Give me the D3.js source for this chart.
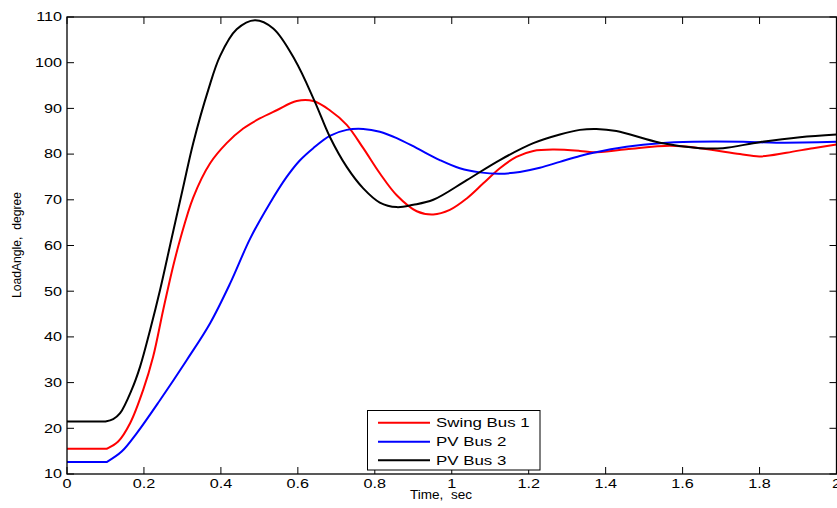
<!DOCTYPE html>
<html>
<head>
<meta charset="utf-8">
<script src="https://cdn.jsdelivr.net/npm/d3@7"></script>
<style>
  html, body { margin: 0; padding: 0; background: #fff; overflow: hidden; }
  svg { display: block; }
  text { font-family: "Liberation Sans", Arial, sans-serif; fill: #000; }
</style>
</head>
<body>
<svg id="chart" width="837" height="508"></svg>
<script>
// ---- data ----
const xTicks = [0, 0.2, 0.4, 0.6, 0.8, 1, 1.2, 1.4, 1.6, 1.8, 2];
const yTicks = [10, 20, 30, 40, 50, 60, 70, 80, 90, 100, 110];

const seriesNames = ["Swing Bus 1", "PV Bus 2", "PV Bus 3"];
const seriesColors = ["#ff0000", "#0000ff", "#000000"];

const swingTime  = [0, 0.103, 0.133, 0.164, 0.198, 0.224, 0.25, 0.276, 0.294, 0.328, 0.372, 0.415, 0.458, 0.501, 0.545, 0.597, 0.64, 0.683, 0.727, 0.77, 0.813, 0.857, 0.909, 0.952, 0.995, 1.039, 1.082, 1.125, 1.168, 1.212, 1.264, 1.333, 1.368, 1.454, 1.567, 1.645, 1.749, 1.80, 1.87, 1.939, 2.0];
const swingAngle = [15.5, 15.5, 17.1, 21.1, 28.4, 35.7, 45.9, 55.5, 61.3, 70.5, 78.0, 82.4, 85.6, 87.8, 89.6, 91.6, 91.6, 89.6, 86.4, 81.3, 75.8, 71.0, 67.5, 66.8, 67.8, 70.3, 73.6, 76.9, 79.4, 80.7, 81.0, 80.7, 80.4, 81.05, 81.8, 81.3, 80.0, 79.5, 80.3, 81.3, 82.1];

const pv2Time  = [0, 0.103, 0.142, 0.181, 0.242, 0.311, 0.372, 0.424, 0.476, 0.527, 0.571, 0.605, 0.64, 0.683, 0.727, 0.77, 0.813, 0.857, 0.909, 0.969, 1.021, 1.073, 1.125, 1.177, 1.229, 1.281, 1.333, 1.368, 1.454, 1.541, 1.627, 1.757, 1.844, 2.0];
const pv2Angle = [12.6, 12.6, 14.9, 18.9, 26.2, 34.9, 43.0, 51.7, 61.5, 69.2, 75.0, 78.6, 81.3, 84.0, 85.3, 85.5, 84.9, 83.5, 81.3, 78.7, 76.9, 76.0, 75.7, 76.1, 77.0, 78.3, 79.6, 80.3, 81.6, 82.4, 82.7, 82.7, 82.5, 82.7];

const pv3Time  = [0, 0.1, 0.12, 0.138, 0.168, 0.19, 0.216, 0.242, 0.272, 0.302, 0.328, 0.367, 0.398, 0.441, 0.4885, 0.536, 0.5925, 0.644, 0.683, 0.727, 0.77, 0.813, 0.857, 0.9, 0.952, 1.039, 1.125, 1.212, 1.281, 1.333, 1.376, 1.428, 1.541, 1.645, 1.705, 1.80, 1.905, 2.0];
const pv3Angle = [21.5, 21.5, 22.0, 23.3, 28.4, 33.5, 41.5, 50.3, 61.6, 72.8, 82.4, 94.0, 101.5, 107.3, 109.3, 107.5, 100.6, 91.5, 83.8, 77.2, 72.5, 69.4, 68.4, 68.9, 70.0, 74.3, 78.7, 82.4, 84.3, 85.3, 85.5, 85.05, 82.5, 81.3, 81.3, 82.6, 83.7, 84.3];

const xLabel = "Time,  sec";
const yLabel = "LoadAngle,  degree";

// ---- layout ----
const svg = d3.select("#chart");
const L = 67, T = 17, R = 836.5, B = 474;
const SX = 1.35; // horizontal stretch of the original figure text

const x = d3.scaleLinear().domain([0, 2]).range([L, R]);
const y = d3.scaleLinear().domain([10, 110]).range([B, T]);

const series = [
  d3.zip(swingTime, swingAngle),
  d3.zip(pv2Time, pv2Angle),
  d3.zip(pv3Time, pv3Angle)
];

// curves: flat pre-fault segment straight, then a smooth curve
const flat = d3.line().x(d => x(d[0])).y(d => y(d[1]));
const smooth = d3.line().x(d => x(d[0])).y(d => y(d[1])).curve(d3.curveCatmullRom.alpha(0.5));
svg.append("defs").append("clipPath").attr("id", "clip")
  .append("rect").attr("x", L).attr("y", T).attr("width", R - L).attr("height", B - T);

const g = svg.append("g").attr("clip-path", "url(#clip)");
series.forEach((s, i) => {
  const p = flat(s.slice(0, 2)) + smooth(s.slice(1)).replace(/^M[^C]*?(?=C)/, "");
  g.append("path").attr("d", p)
    .attr("fill", "none").attr("stroke", seriesColors[i])
    .attr("stroke-width", 2).attr("stroke-linejoin", "round");
});

// ticks (inward, all four sides)
const tk = 7;
const ticks = svg.append("g").attr("stroke", "#000").attr("stroke-width", 1);
xTicks.forEach(v => {
  ticks.append("line").attr("x1", x(v)).attr("x2", x(v)).attr("y1", B).attr("y2", B - tk);
  ticks.append("line").attr("x1", x(v)).attr("x2", x(v)).attr("y1", T).attr("y2", T + tk);
});
yTicks.forEach(v => {
  ticks.append("line").attr("x1", L).attr("x2", L + tk).attr("y1", y(v)).attr("y2", y(v));
  ticks.append("line").attr("x1", R).attr("x2", R - tk).attr("y1", y(v)).attr("y2", y(v));
});

// frame
svg.append("rect").attr("x", L).attr("y", T).attr("width", R - L).attr("height", B - T)
  .attr("fill", "none").attr("stroke", "#000").attr("stroke-width", 1.3);

// tick labels
function stretchedText(px, py, str, anchor, size) {
  return svg.append("text")
    .attr("transform", `translate(${px},${py}) scale(${SX},1)`)
    .attr("text-anchor", anchor)
    .style("font-size", size + "px")
    .text(str);
}
const fmt = d3.format("~g");
xTicks.forEach(v => stretchedText(x(v), 488, fmt(v), "middle", 12));
yTicks.forEach(v => stretchedText(62, y(v) + 4.3, fmt(v), "end", 12));

// axis titles
svg.append("text")
  .attr("x", 410).attr("y", 499)
  .style("font-size", "13px").style("white-space", "pre")
  .attr("textLength", 62).attr("lengthAdjust", "spacingAndGlyphs")
  .text(xLabel);

svg.append("text")
  .attr("transform", `translate(20.5,245) rotate(-90)`)
  .attr("text-anchor", "middle")
  .style("font-size", "12.5px").style("white-space", "pre")
  .attr("textLength", 106).attr("lengthAdjust", "spacingAndGlyphs")
  .text(yLabel);

// legend
const lg = svg.append("g");
lg.append("rect").attr("x", 367.5).attr("y", 410.5).attr("width", 172.5).attr("height", 59.5)
  .attr("fill", "#fff").attr("stroke", "#000").attr("stroke-width", 1);
const rowY = [422.7, 441.7, 460.3];
seriesNames.forEach((name, i) => {
  lg.append("line").attr("x1", 378).attr("x2", 430).attr("y1", rowY[i]).attr("y2", rowY[i])
    .attr("stroke", seriesColors[i]).attr("stroke-width", 2);
  svg.append("text")
    .attr("transform", `translate(436,${rowY[i] + 4.5}) scale(${SX},1)`)
    .style("font-size", "12.5px")
    .text(name);
});
</script>
</body>
</html>
